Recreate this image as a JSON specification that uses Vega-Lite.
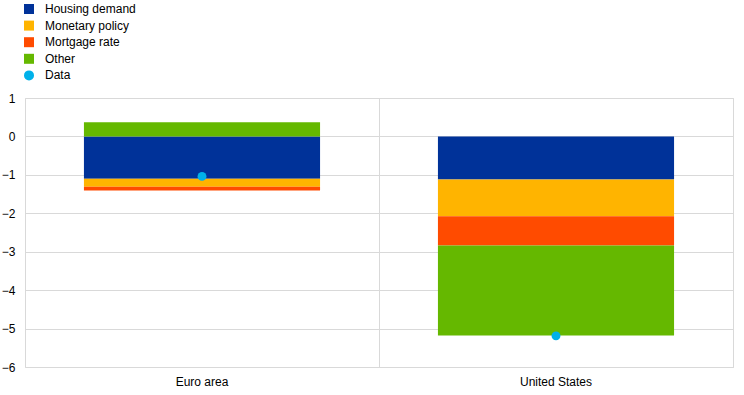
{
  "$schema": "https://vega.github.io/schema/vega-lite/v6.json",
  "autosize": {"type": "none"},
  "padding": {"left": 25, "top": 98, "right": 11, "bottom": 28},
  "width": 708,
  "height": 269,
  "config": {
    "font": "Liberation Sans",
    "view": {"stroke": "#d9d9d9", "strokeWidth": 1},
    "axis": {"labelFont": "Liberation Sans", "labelFontSize": 12, "labelColor": "#000000", "gridColor": "#d9d9d9", "ticks": false, "domain": false, "title": null},
    "legend": {"labelFont": "Liberation Sans", "labelFontSize": 12, "labelColor": "#000000"}
  },
  "datasets": {
    "bars": [
      {"region": "Euro area", "series": "Housing demand", "idx": 1, "value": -1.10},
      {"region": "Euro area", "series": "Monetary policy", "idx": 2, "value": -0.21},
      {"region": "Euro area", "series": "Mortgage rate", "idx": 3, "value": -0.10},
      {"region": "Euro area", "series": "Other", "idx": 4, "value": 0.37},
      {"region": "United States", "series": "Housing demand", "idx": 1, "value": -1.12},
      {"region": "United States", "series": "Monetary policy", "idx": 2, "value": -0.96},
      {"region": "United States", "series": "Mortgage rate", "idx": 3, "value": -0.76},
      {"region": "United States", "series": "Other", "idx": 4, "value": -2.34}
    ],
    "points": [
      {"region": "Euro area", "series": "Data", "value": -1.04},
      {"region": "United States", "series": "Data", "value": -5.19}
    ]
  },
  "encoding": {
    "x": {
      "field": "region", "type": "nominal",
      "scale": {"paddingInner": 0.333, "paddingOuter": 0.1665},
      "axis": {"labelAngle": 0, "grid": true, "bandPosition": 1.25, "labelPadding": 9}
    },
    "y": {"field": "value", "type": "quantitative",
      "scale": {"domain": [-6, 1], "nice": false},
      "axis": {"values": [1, 0, -1, -2, -3, -4, -5, -6], "labelPadding": 10, "grid": true, "labelOverlap": false}}
  },
  "layer": [
    {
      "data": {"name": "bars"},
      "mark": {"type": "bar"},
      "encoding": {
        "y": {"field": "value", "type": "quantitative", "stack": "zero"},
        "color": {"field": "series", "type": "nominal",
          "scale": {"domain": ["Housing demand", "Monetary policy", "Mortgage rate", "Other", "Data"],
                    "range": ["#003299", "#FFB400", "#FF4B00", "#65B800", "#00B1EA"]},
          "legend": {"title": null, "orient": "none", "legendX": -2, "legendY": -95, "symbolSize": 100, "rowPadding": 4.6, "labelOffset": 10}},
        "order": {"field": "idx", "type": "quantitative"}
      }
    },
    {
      "data": {"name": "points"},
      "mark": {"type": "point", "filled": true, "opacity": 1, "size": 80},
      "encoding": {
        "color": {"field": "series", "type": "nominal"},
        "shape": {"field": "series", "type": "nominal",
          "scale": {"domain": ["Housing demand", "Monetary policy", "Mortgage rate", "Other", "Data"],
                    "range": ["square", "square", "square", "square", "circle"]},
          "legend": {"title": null, "orient": "none", "legendX": -2, "legendY": -95, "symbolSize": 100, "rowPadding": 4.6, "labelOffset": 10}}
      }
    }
  ]
}
